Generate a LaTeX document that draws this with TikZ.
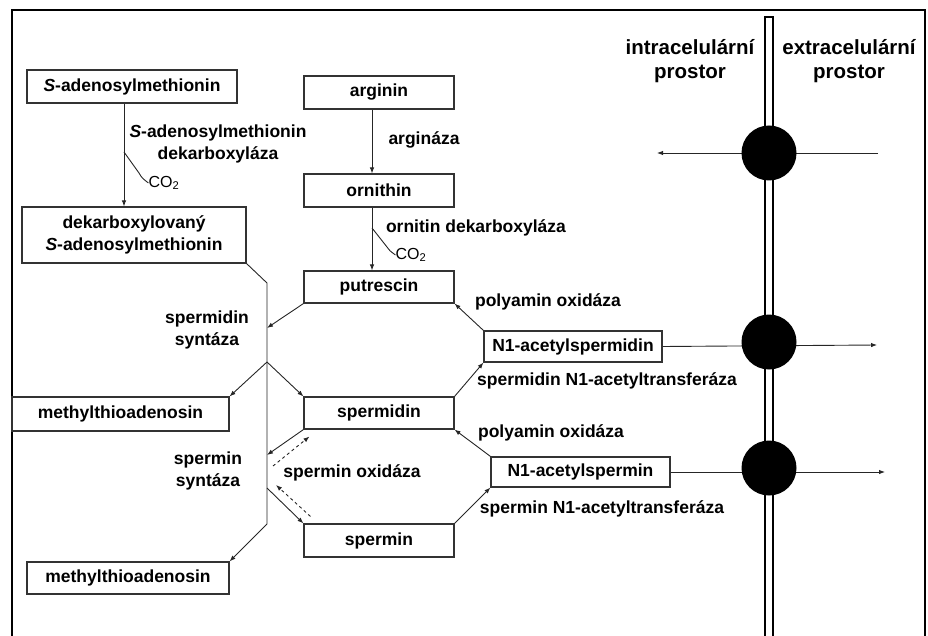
\documentclass[tikz,border=0pt]{standalone}
\usepackage{fontspec}
\setmainfont{Liberation Sans}
\usetikzlibrary{arrows.meta,calc}

\tikzset{
	metab/.style={draw=black!80, line width=1.1pt, inner sep=0pt, align=center, font=\bfseries\fontsize{17.5}{22}\selectfont},
	enz/.style={inner sep=0pt, align=center, font=\bfseries\fontsize{17.5}{22}\selectfont},
	space/.style={inner sep=0pt, align=center, font=\bfseries\fontsize{20.5}{24.5}\selectfont},
	side/.style={inner sep=0pt, font=\fontsize{16}{18}\selectfont},
	rxn/.style={draw=black!85, line width=0.9pt, -{Latex[length=6pt,width=4.5pt]}},
	ox/.style={rxn, dash pattern=on 3pt off 3pt},
	pump/.style={circle, fill=black, minimum size=55pt, inner sep=0pt},
}

\begin{document}
\begin{tikzpicture}[x=1pt,y=-1pt]
	\useasboundingbox (0,0) rectangle (928,636);
	\draw[line width=1.2pt] (12,636) -- (12,10) -- (925,10) -- (925,636);
	%
	% metabolites
	\node[metab, minimum width=210pt, minimum height=33pt] (sam) at (132,86.5) {\textit{S}-adenosylmethionin};
	\node[metab, minimum width=224pt, minimum height=56pt] (dsam) at (134,235) {dekarboxylovaný\\\textit{S}-adenosylmethionin};
	\node[metab, minimum width=150pt, minimum height=33pt] (arg) at (379,92.5) {arginin};
	\node[metab, minimum width=150pt, minimum height=33pt] (orn) at (379,190.5) {ornithin};
	\node[metab, minimum width=150pt, minimum height=32pt] (put) at (379,287) {putrescin};
	\node[metab, minimum width=150pt, minimum height=32pt] (spd) at (379,413) {spermidin};
	\node[metab, minimum width=150pt, minimum height=33pt] (spm) at (379,540.5) {spermin};
	\node[metab, minimum width=217pt, minimum height=34pt] (mta1) at (120.5,414) {methylthioadenosin};
	\node[metab, minimum width=202pt, minimum height=32pt] (mta2) at (128,578) {methylthioadenosin};
	\node[metab, minimum width=178pt, minimum height=31pt] (acspd) at (573,346.5) {N1-acetylspermidin};
	\node[metab, minimum width=179pt, minimum height=30pt] (acspm) at (580.5,472) {N1-acetylspermin};
	%
	% decarboxylations
	\draw[rxn] ([xshift=-8pt]sam.south) -- ([xshift=-8pt]sam.south |- dsam.north);
	\node[side] (co2a) at (164,183) {CO\textsubscript{2}};
	\draw[draw=black!85, line width=0.9pt] (124,152) -- (139,173) .. controls (142,178) .. (co2a.west);
	\draw[rxn] ([xshift=-7pt]arg.south) -- ([xshift=-7pt]arg.south |- orn.north);
	\draw[rxn] ([xshift=-7pt]orn.south) -- ([xshift=-7pt]orn.south |- put.north);
	\node[side] (co2b) at (411,255) {CO\textsubscript{2}};
	\draw[draw=black!85, line width=0.9pt] (372,228) -- (387,247) .. controls (390,251) .. (co2b.west);
	%
	% synthases
	\coordinate (sptop) at (267,283);
	\coordinate (spbot) at (267,524);
	\coordinate (b1) at (267,328);
	\coordinate (b2) at (267,362);
	\coordinate (b3) at (267,455);
	\coordinate (b4) at (267,488);
	\draw[draw=black!85, line width=0.9pt] (dsam.south east) -- (sptop) -- (spbot);
	\draw[rxn] (spbot) -- (mta2.north east);
	\draw[rxn] (put.south west) -- (b1);
	\draw[rxn] (b2) -- (mta1.north east);
	\draw[rxn] (b2) -- (spd.north west);
	\draw[rxn] (spd.south west) -- (b3);
	\draw[rxn] (b4) -- (spm.north west);
	\draw[ox] ($(spm.north west)+(7,-7)$) -- (276,485);
	\draw[ox] (273,466) -- ($(spd.south west)+(6,7)$);
	%
	% acetylation / oxidation
	\draw[rxn] (acspd.north west) -- (put.south east);
	\draw[rxn] (spd.north east) -- (acspd.south west);
	\draw[rxn] (acspm.north west) -- (spd.south east);
	\draw[rxn] (spm.north east) -- (acspm.south west);
	%
	% enzymes
	\node[enz] (samdc) at (218,144) {\textit{S}-adenosylmethionin\\dekarboxyláza};
	\node[enz] (arginase) at (424,140) {argináza};
	\node[enz] (odc) at (476,228) {ornitin dekarboxyláza};
	\node[enz] (spds) at (207,330) {spermidin\\syntáza};
	\node[enz] (spms) at (208,471) {spermin\\syntáza};
	\node[enz] (smo) at (352,473) {spermin oxidáza};
	\node[enz] (pao1) at (548,302) {polyamin oxidáza};
	\node[enz] (pao2) at (551,433) {polyamin oxidáza};
	\node[enz] (ssat1) at (607,381) {spermidin N1-acetyltransferáza};
	\node[enz] (ssat2) at (602,509) {spermin N1-acetyltransferáza};
	%
	% membrane
	\draw[line width=1.3pt, fill=white] (765,636) -- (765,17) -- (773,17) -- (773,636);
	\node[space] (intra) at (690,61) {intracelulární\\prostor};
	\node[space] (extra) at (849,61) {extracelulární\\prostor};
	\coordinate (inflow) at (878,153);
	\coordinate (out1) at (877,345);
	\coordinate (out2) at (885,472);
	\draw[rxn] (inflow) -- (657,153);
	\draw[rxn] (acspd.east) -- (out1);
	\draw[rxn] (acspm.east) -- (out2);
	\node[pump] (pump1) at (769,153) {};
	\node[pump] (pump2) at (769,342) {};
	\node[pump] (pump3) at (769,468) {};
\end{tikzpicture}
\end{document}
